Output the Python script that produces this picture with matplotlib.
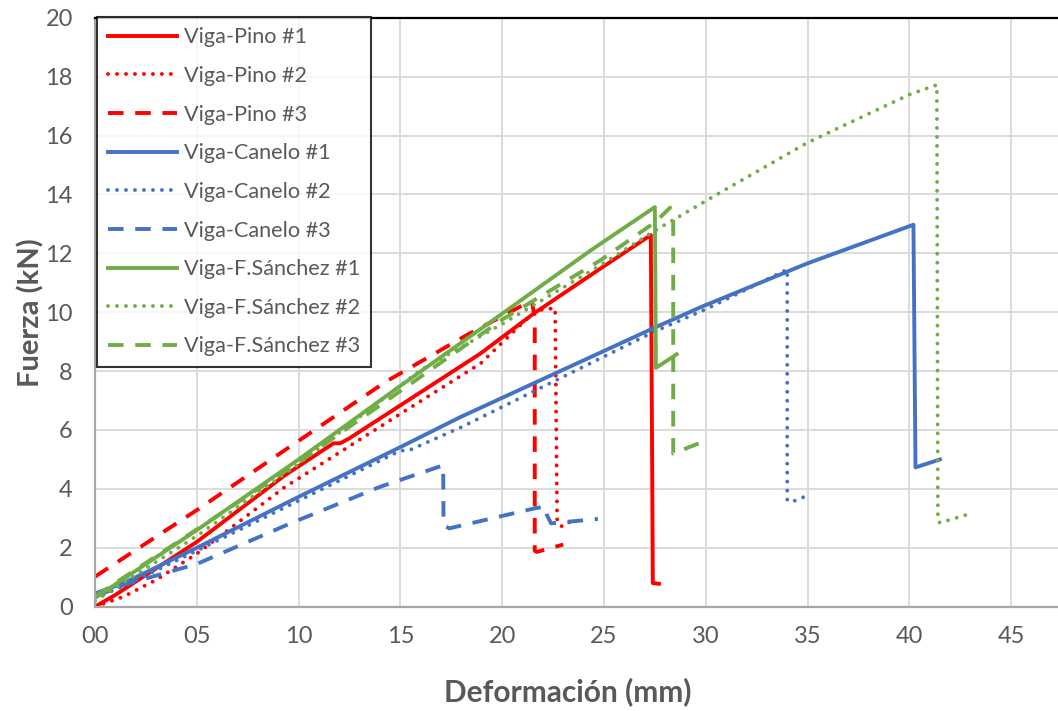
import matplotlib
matplotlib.use("Agg")
import matplotlib.pyplot as plt
from matplotlib.ticker import FuncFormatter, MultipleLocator

# Ensayos de flexion: fuerza vs deformacion
pino1_x = [0, 1.0, 5.0, 9.3, 11.72, 12.05, 12.5, 18.94, 21.56, 24.84, 27.3, 27.4, 27.7]
pino1_y = [0, 0.4, 2.2, 4.45, 5.55, 5.55, 5.72, 8.6, 9.96, 11.49, 12.62, 0.8, 0.78]

pino2_x = [0, 1.4, 3.0, 5.0, 9.3, 15.0, 18.94, 21.4, 22.0, 22.6, 22.7, 22.95, 23.5]
pino2_y = [0, 0.34, 0.91, 1.8, 4.05, 6.55, 8.26, 9.9, 10.1, 10.13, 2.85, 2.72, 2.95]

pino3_x = [0, 5.0, 9.1, 14.26, 18.2, 21.45, 21.6, 21.6, 21.7, 23.0]
pino3_y = [1.02, 3.28, 5.21, 7.63, 9.2, 10.4, 9.8, 1.9, 1.86, 2.11]

canelo1_x = [0, 1.4, 5.0, 10.0, 15.0, 17.95, 27.5, 29.78, 35.0, 40.2, 40.3, 41.5]
canelo1_y = [0.45, 0.8, 2.0, 3.73, 5.42, 6.44, 9.48, 10.18, 11.66, 12.97, 4.73, 5.0]

canelo2_x = [0, 1.4, 5.0, 10.0, 15.0, 15.4, 18.0, 27.5, 30.0, 34.0, 34.0, 34.15, 34.95]
canelo2_y = [0.3, 0.7, 1.9, 3.6, 5.3, 5.3, 6.1, 9.35, 10.1, 11.45, 3.64, 3.54, 3.76]

canelo3_x = [0, 1.4, 5.0, 9.6, 14.0, 17.1, 17.12, 17.4, 21.6, 22.1, 22.2, 22.4, 24.7]
canelo3_y = [0.34, 0.74, 1.45, 2.83, 4.07, 4.8, 2.77, 2.66, 3.34, 3.4, 3.11, 2.83, 2.98]

sanchez1_x = [0, 5.0, 10.0, 15.0, 20.0, 24.35, 27.5, 27.55, 28.57]
sanchez1_y = [0.3, 2.6, 5.0, 7.5, 9.95, 12.1, 13.57, 8.11, 8.57]

sanchez2_x = [0, 5.0, 10.0, 16.0, 20.0, 24.84, 27.5, 30.8, 35.0, 40.0, 41.35, 41.4, 41.5, 42.8]
sanchez2_y = [0.2, 2.4, 4.85, 8.04, 9.6, 11.6, 12.77, 14.1, 15.76, 17.39, 17.72, 2.91, 2.85, 3.12]

sanchez3_x = [0, 10.0, 20.0, 24.84, 27.5, 28.25, 28.4, 28.4, 30.1]
sanchez3_y = [0.35, 4.9, 9.75, 11.77, 13.05, 13.55, 13.1, 5.2, 5.67]

RED = "#FF0000"
BLUE = "#4472C4"
GREEN = "#70AD47"
TXT = "#595959"

plt.rcParams["font.family"] = ["Lato", "DejaVu Sans"]

fig = plt.figure(figsize=(10.58, 7.11), dpi=100)
ax = fig.add_axes([0.0898, 0.1467, 0.9102, 0.8284])

lw = 2.8
dot = (0, (0.01, 2.3))
dash = (0, (4.0, 3.0))

series = [
    (pino1_x, pino1_y, RED, "-", "Viga-Pino #1"),
    (pino2_x, pino2_y, RED, dot, "Viga-Pino #2"),
    (pino3_x, pino3_y, RED, dash, "Viga-Pino #3"),
    (canelo1_x, canelo1_y, BLUE, "-", "Viga-Canelo #1"),
    (canelo2_x, canelo2_y, BLUE, dot, "Viga-Canelo #2"),
    (canelo3_x, canelo3_y, BLUE, dash, "Viga-Canelo #3"),
    (sanchez1_x, sanchez1_y, GREEN, "-", "Viga-F.Sánchez #1"),
    (sanchez2_x, sanchez2_y, GREEN, dot, "Viga-F.Sánchez #2"),
    (sanchez3_x, sanchez3_y, GREEN, dash, "Viga-F.Sánchez #3"),
]

for x, y, c, ls, name in series:
    ax.plot(x, y, color=c, linestyle=ls, linewidth=lw, label=name,
            dash_capstyle="round" if ls == dot else "butt",
            solid_joinstyle="round")

ax.set_xlim(0, 47.3)
ax.set_ylim(0, 20)
ax.xaxis.set_major_locator(MultipleLocator(5))
ax.yaxis.set_major_locator(MultipleLocator(2))
ax.xaxis.set_major_formatter(FuncFormatter(lambda v, p: f"{v:02.0f}"))

ax.grid(True, color="#d9d9d9", linewidth=1.3)
ax.set_axisbelow(True)
ax.tick_params(length=0, labelsize=17, colors=TXT)
ax.tick_params(axis="x", pad=14)
ax.tick_params(axis="y", pad=16)

for s in ("left", "bottom"):
    ax.spines[s].set_color("#a6a6a6")
    ax.spines[s].set_linewidth(1.6)
ax.spines["top"].set_color("black")
ax.spines["top"].set_linewidth(1.6)
ax.spines["right"].set_visible(False)

ax.set_xlabel("Deformación (mm)", fontsize=21.5, fontweight="bold", color=TXT)
ax.set_ylabel("Fuerza (kN)", fontsize=21, fontweight="bold", color=TXT)
ax.xaxis.set_label_coords(0.491, -0.12)
ax.yaxis.set_label_coords(-0.052, 0.5)

leg = ax.legend(loc="upper left", bbox_to_anchor=(0.002, 1.002), fontsize=15.6,
                frameon=True, fancybox=False, edgecolor="black",
                handlelength=3.2, handletextpad=0.3, labelspacing=0.86,
                borderpad=0.5, borderaxespad=0)
leg.get_frame().set_linewidth(1.5)
for t in leg.get_texts():
    t.set_color(TXT)

fig.savefig("out.png", dpi=100)
